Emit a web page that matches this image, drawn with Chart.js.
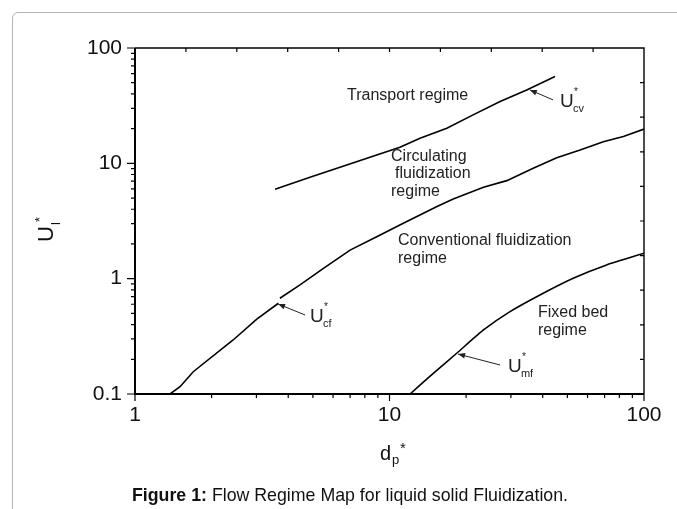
<!DOCTYPE html>
<html>
<head>
<meta charset="utf-8">
<script src="https://cdn.jsdelivr.net/npm/chart.js@4.4.0/dist/chart.umd.min.js"></script>
<style>
  body { margin: 0; background: #fff; }
  #wrap { position: relative; width: 677px; height: 509px; overflow: hidden; font-family: "Liberation Sans", Arial, sans-serif; }
  #card { position: absolute; left: 12px; top: 12px; width: 720px; height: 540px; border: 1px solid #b4b4b4; border-radius: 6px; }
  #chart { position: absolute; left: 0; top: 0; }
  #caption { position: absolute; left: 132px; top: 485px; font-size: 17.75px; line-height: 20px; white-space: nowrap; color: #111; }
</style>
</head>
<body>
<div id="wrap">
  <div id="card"></div>
  <canvas id="chart" width="677" height="509"></canvas>
  <div id="caption"><b>Figure 1:</b> Flow Regime Map for liquid solid Fluidization.</div>
</div>
<script>
// U*cv : transport boundary
const cvX = [3.55, 4.87, 6.39, 8.38, 10.99, 13.18, 16.8, 21.3, 27.2, 34.6, 44.7];
const cvY = [5.96, 7.58, 9.25, 11.29, 13.79, 16.51, 20.16, 26.3, 34.3, 43.3, 56.5];

// U*cf : conventional / circulating boundary (small break where the arrow points)
const cfX = [1.373, 1.503, 1.694, 2.43, 3.01, 3.66, 3.68, 3.71, 4.45, 5.50, 7.0, 8.91, 11.33, 15.3, 17.8, 23.4, 28.9, 36.7, 45.4, 56.1, 69.2, 83.0, 100];
const cfY = [0.1, 0.1157, 0.156, 0.294, 0.445, 0.612, null, 0.676, 0.882, 1.23, 1.77, 2.31, 3.02, 4.21, 4.91, 6.2, 7.08, 9.07, 11.2, 13.06, 15.4, 17.05, 19.8];

// U*mf : minimum fluidization
const mfX = [12.04, 14.86, 18.37, 23.4, 29.75, 39.0, 52.7, 71.3, 100];
const mfY = [0.1, 0.151, 0.2256, 0.359, 0.5175, 0.722, 1.008, 1.315, 1.66];

const xTicks = [1, 10, 100];
const xTickLabels = ['1', '10', '100'];
const yTicks = [0.1, 1, 10, 100];
const yTickLabels = ['0.1', '1', '10', '100'];

const FONT = '"Liberation Sans", Arial, sans-serif';

// region names, placed in data coordinates (left edge, middle line)
const regionText = [
  { t: 'Transport regime', x: 6.81, y: 38.4 },
  { t: 'Circulating', x: 10.14, y: 11.36 },
  { t: 'fluidization', x: 10.51, y: 8.09 },
  { t: 'regime', x: 10.14, y: 5.65 },
  { t: 'Conventional fluidization', x: 10.80, y: 2.12 },
  { t: 'regime', x: 10.80, y: 1.48 },
  { t: 'Fixed bed', x: 38.3, y: 0.504 },
  { t: 'regime', x: 38.3, y: 0.352 }
];

// curve labels with arrows: U* + subscript, arrow tail -> tip on the curve
const curveLabels = [
  { sub: 'cv', x: 46.8, y: 30.8, tail: [43.9, 35.5], tip: [35.6, 43.3] },
  { sub: 'cf', x: 4.87, y: 0.421, tail: [4.66, 0.484], tip: [3.65, 0.603] },
  { sub: 'mf', x: 29.2, y: 0.155, tail: [27.2, 0.1784], tip: [18.6, 0.222] }
];

function pts(xs, ys) {
  return xs.map((v, i) => ({ x: v, y: ys[i] }));
}

function arrow(ctx, x1, y1, x2, y2) {
  ctx.beginPath();
  ctx.moveTo(x1, y1);
  ctx.lineTo(x2, y2);
  ctx.stroke();
  const ang = Math.atan2(y2 - y1, x2 - x1);
  const L = 7, W = 2.8;
  const bx = x2 - L * Math.cos(ang), by = y2 - L * Math.sin(ang);
  ctx.beginPath();
  ctx.moveTo(x2, y2);
  ctx.lineTo(bx + W * Math.sin(ang), by - W * Math.cos(ang));
  ctx.lineTo(bx - W * Math.sin(ang), by + W * Math.cos(ang));
  ctx.closePath();
  ctx.fill();
}

const decor = {
  id: 'decor',
  afterDraw(chart) {
    const ctx = chart.ctx, a = chart.chartArea;
    const sx = chart.scales.x, sy = chart.scales.y;
    ctx.save();
    ctx.strokeStyle = '#000';
    ctx.fillStyle = '#111';

    // frame
    ctx.lineWidth = 1.4;
    ctx.beginPath();
    ctx.moveTo(a.left, a.top); ctx.lineTo(a.right, a.top); ctx.lineTo(a.right, a.bottom);
    ctx.stroke();
    ctx.lineWidth = 2;
    ctx.beginPath();
    ctx.moveTo(a.left, a.top); ctx.lineTo(a.left, a.bottom); ctx.lineTo(a.right, a.bottom);
    ctx.stroke();

    // tick marks
    ctx.lineWidth = 1.2;
    ctx.beginPath();
    for (let d = 0; d <= 2; d++) {
      for (let m = 1; m <= 9; m++) {
        const v = m * Math.pow(10, d);
        if (v > 100) break;
        const px = sx.getPixelForValue(v);
        ctx.moveTo(px, a.bottom); ctx.lineTo(px, a.bottom + (m === 1 ? 7 : 4));
      }
    }
    for (let d = -1; d <= 2; d++) {
      for (let m = 1; m <= 9; m++) {
        const v = m * Math.pow(10, d);
        if (v > 100.0001) break;
        const py = sy.getPixelForValue(v);
        ctx.moveTo(a.left, py); ctx.lineTo(a.left - (m === 1 ? 8 : 4), py);
      }
    }
    for (let k = 1; k < 10; k++) {
      const px = sx.getPixelForValue(Math.pow(10, k * 0.2));
      ctx.moveTo(px, a.top); ctx.lineTo(px, a.top + 4);
      const py = sy.getPixelForValue(Math.pow(10, 2 - k * 0.3));
      ctx.moveTo(a.right, py); ctx.lineTo(a.right - 4, py);
    }
    ctx.stroke();

    // region names
    ctx.fillStyle = '#222';
    ctx.font = '16px ' + FONT;
    ctx.textBaseline = 'middle';
    ctx.textAlign = 'left';
    regionText.forEach(r => {
      ctx.fillText(r.t, sx.getPixelForValue(r.x), sy.getPixelForValue(r.y));
    });

    // curve labels + arrows
    ctx.textBaseline = 'alphabetic';
    ctx.lineWidth = 1;
    ctx.strokeStyle = '#222';
    curveLabels.forEach(c => {
      const ux = sx.getPixelForValue(c.x), uy = sy.getPixelForValue(c.y);
      ctx.font = '19px ' + FONT;
      ctx.fillText('U', ux, uy);
      ctx.font = '10px ' + FONT;
      ctx.fillText('*', ux + 14, uy - 12);
      ctx.font = '11px ' + FONT;
      ctx.fillText(c.sub, ux + 13, uy + 5);
      arrow(ctx,
        sx.getPixelForValue(c.tail[0]), sy.getPixelForValue(c.tail[1]),
        sx.getPixelForValue(c.tip[0]), sy.getPixelForValue(c.tip[1]));
    });

    // x axis title: d_p*
    ctx.fillStyle = '#111';
    ctx.font = '20px ' + FONT;
    ctx.fillText('d', 380, 460);
    ctx.font = '13px ' + FONT;
    ctx.fillText('p', 392, 464);
    ctx.font = '15px ' + FONT;
    ctx.fillText('*', 400, 453);

    // y axis title: U*_l (rotated)
    ctx.translate(53, 242);
    ctx.rotate(-Math.PI / 2);
    ctx.font = '22px ' + FONT;
    ctx.fillText('U', 0, 0);
    ctx.font = '13px ' + FONT;
    ctx.fillText('*', 20, -9);
    ctx.fillText('l', 17, 7);

    ctx.restore();
  }
};

const tickFont = { family: FONT, size: 21 };

new Chart(document.getElementById('chart'), {
  type: 'line',
  data: {
    datasets: [
      { label: 'U*cv', data: pts(cvX, cvY) },
      { label: 'U*cf', data: pts(cfX, cfY) },
      { label: 'U*mf', data: pts(mfX, mfY), tension: 0.2 }
    ].map(ds => Object.assign({
      borderColor: '#000',
      borderWidth: 1.6,
      pointRadius: 0,
      fill: false,
      spanGaps: false
    }, ds))
  },
  options: {
    responsive: false,
    animation: false,
    layout: { padding: { left: 0, right: 33, top: 48, bottom: 0 } },
    plugins: {
      legend: { display: false },
      tooltip: { enabled: false }
    },
    scales: {
      x: {
        type: 'logarithmic',
        min: 1,
        max: 100,
        grid: { display: false },
        border: { display: false },
        afterBuildTicks: s => { s.ticks = xTicks.map(v => ({ value: v })); },
        afterFit: s => { s.height = 115; },
        ticks: {
          autoSkip: false,
          maxRotation: 0,
          padding: 1,
          color: '#111',
          font: tickFont,
          callback: v => xTickLabels[xTicks.indexOf(v)] || ''
        }
      },
      y: {
        type: 'logarithmic',
        min: 0.1,
        max: 100,
        grid: { display: false },
        border: { display: false },
        afterBuildTicks: s => { s.ticks = yTicks.map(v => ({ value: v })); },
        afterFit: s => { s.width = 135; },
        ticks: {
          autoSkip: false,
          padding: 5,
          color: '#111',
          font: tickFont,
          callback: v => yTickLabels[yTicks.indexOf(v)] || ''
        }
      }
    }
  },
  plugins: [decor]
});
</script>
</body>
</html>
